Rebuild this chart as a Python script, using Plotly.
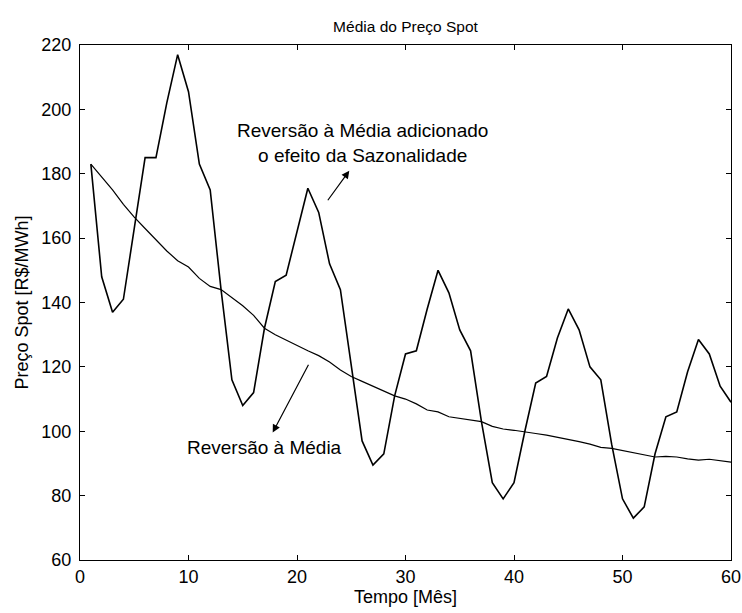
import plotly.graph_objects as go

meses = list(range(1, 61))

sazonal = [183, 148, 137, 141, 163, 185, 185, 202, 217, 205.5,
           183, 175, 144, 116, 108, 112, 132, 146.5, 148.5, 162,
           175.5, 168, 152, 144, 120, 97, 89.5, 93, 111, 124,
           125, 138, 150, 143, 131.5, 125, 103, 84, 79, 84,
           100, 115, 117, 129, 138, 131.5, 120, 116, 96, 79,
           73, 76.5, 93, 104.5, 106, 118.5, 128.5, 124, 114, 109]

reversao = [183, 179, 175, 170.5, 166.5, 163, 159.5, 156, 153, 151,
            147.5, 145, 144, 141.5, 139, 136, 132, 130, 128.3, 126.5,
            125, 123.5, 121.5, 119, 117, 115.5, 114, 112.5, 111, 110,
            108.5, 106.6, 106, 104.5, 104, 103.3, 103, 101.5, 100.7, 100.3,
            99.9, 99.3, 98.8, 98.2, 97.6, 96.8, 96, 95, 94.7, 94,
            93.5, 92.8, 92, 92.2, 92, 91.4, 91, 91.3, 90.8, 90.4]

x_ticks = [0, 10, 20, 30, 40, 50, 60]
y_ticks = [60, 80, 100, 120, 140, 160, 180, 200, 220]

FONT = "Liberation Sans"
FS = 18

fig = go.Figure()
fig.add_trace(go.Scatter(x=meses, y=sazonal, mode="lines",
                         line=dict(color="black", width=1.6), showlegend=False))
fig.add_trace(go.Scatter(x=meses, y=reversao, mode="lines",
                         line=dict(color="black", width=1.2), showlegend=False))

axis_common = dict(showgrid=False, zeroline=False, showline=True, linecolor="black",
                   linewidth=1, mirror="ticks", ticks="inside", ticklen=5,
                   tickcolor="black", automargin=False,
                   tickfont=dict(family=FONT, size=FS, color="black"))

fig.update_layout(
    width=742, height=613,
    margin=dict(l=80, r=11, t=45, b=53),
    paper_bgcolor="white", plot_bgcolor="white",
    title=dict(text="Média do Preço Spot", xref="paper", x=0.5, xanchor="center",
               yref="container", y=1 - 27 / 613, yanchor="middle",
               font=dict(family=FONT, size=15.5, color="black")),
    xaxis=dict(range=[0, 60], tickvals=x_ticks,
               title=dict(text="Tempo [Mês]", standoff=2,
                          font=dict(family=FONT, size=FS, color="black")),
               **axis_common),
    yaxis=dict(range=[60, 220], tickvals=y_ticks, ticklabelstandoff=4,
               title=dict(text="Preço Spot [R$/MWh]", standoff=8,
                          font=dict(family=FONT, size=FS, color="black")),
               **axis_common),
)

# arrows
fig.add_annotation(x=24.82, y=180.95, ax=22.74, ay=171.3, xref="x", yref="y",
                   axref="x", ayref="y", text="", showarrow=True,
                   arrowhead=2, arrowsize=1.3, arrowwidth=1.2, arrowcolor="black")
fig.add_annotation(x=17.76, y=99.6, ax=21.13, ay=121.1, xref="x", yref="y",
                   axref="x", ayref="y", text="", showarrow=True,
                   arrowhead=2, arrowsize=1.3, arrowwidth=1.2, arrowcolor="black")

# texts
fig.add_annotation(x=26.0, y=189.6, xref="x", yref="y", showarrow=False,
                   text="Reversão à Média adicionado<br>o efeito da Sazonalidade",
                   align="center", font=dict(family=FONT, size=19, color="black"))
fig.add_annotation(x=17.0, y=94.8, xref="x", yref="y", showarrow=False,
                   text="Reversão à Média",
                   font=dict(family=FONT, size=19, color="black"))

fig.write_html("out.html")
